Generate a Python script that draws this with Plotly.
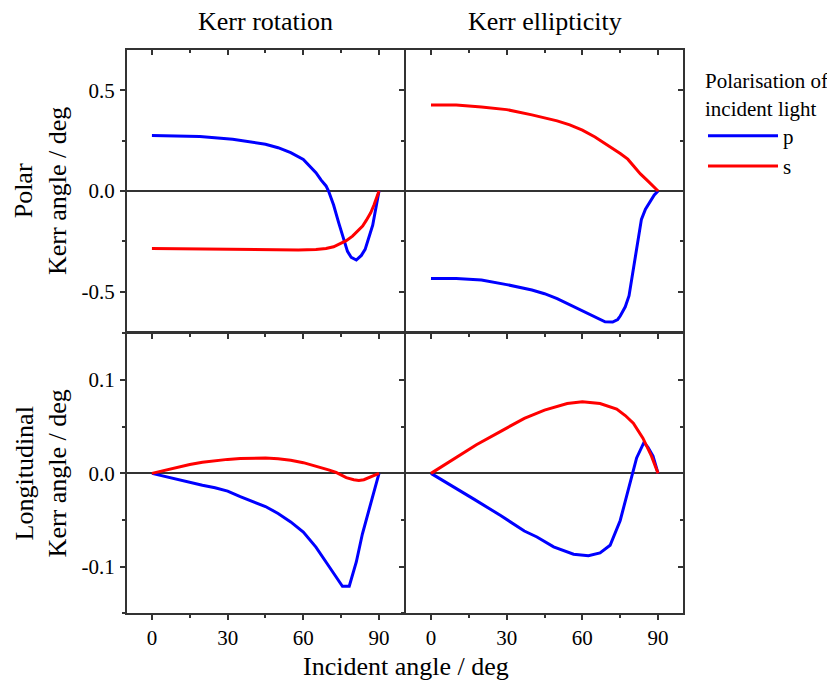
import plotly.graph_objects as go

# ---------------- data ----------------
# Polar Kerr rotation
pol_rot_p_x = [0, 10, 19, 32, 45, 50, 55, 60, 63, 65, 67, 69, 70, 72, 74, 76, 77.5, 79, 81, 83, 84.5, 86, 87.5, 90]
pol_rot_p_y = [0.276, 0.273, 0.270, 0.257, 0.232, 0.215, 0.190, 0.157, 0.120, 0.091, 0.055, 0.025, 0.0,
               -0.07, -0.157, -0.24, -0.30, -0.33, -0.343, -0.32, -0.29, -0.23, -0.17, 0.0]
pol_rot_s_x = [0, 10, 20, 30, 40, 50, 58, 65, 69, 72, 74, 77, 79.5, 82, 83.5, 85, 86.7, 88, 90]
pol_rot_s_y = [-0.286, -0.287, -0.289, -0.291, -0.293, -0.293, -0.293, -0.29, -0.286, -0.277, -0.265,
               -0.247, -0.224, -0.195, -0.174, -0.145, -0.108, -0.07, 0.0]

# Polar Kerr ellipticity
pol_ell_p_x = [0, 10, 20, 30, 40, 45, 50, 55, 60, 65, 69, 72, 74, 75, 77, 78.5, 80, 81.5, 83.4, 85, 86.7, 88.5, 90]
pol_ell_p_y = [-0.434, -0.435, -0.442, -0.465, -0.492, -0.51, -0.535, -0.565, -0.597, -0.628, -0.650,
               -0.651, -0.638, -0.621, -0.575, -0.52, -0.40, -0.27, -0.141, -0.09, -0.058, -0.02, 0.0]
pol_ell_s_x = [0, 10, 20, 30, 40, 50, 55, 60, 65, 70, 75, 78, 81, 83, 85.5, 88, 90]
pol_ell_s_y = [0.427, 0.427, 0.417, 0.404, 0.378, 0.348, 0.328, 0.302, 0.268, 0.228, 0.186, 0.158,
               0.115, 0.085, 0.055, 0.025, 0.0]

# Longitudinal Kerr rotation
lon_rot_p_x = [0, 6, 10, 15, 20, 25, 30, 35, 40, 45, 50, 55, 60, 65, 70, 73, 75.5, 78.2, 79.5, 81, 83.4, 86.7, 90]
lon_rot_p_y = [0.0, -0.0039, -0.0065, -0.0099, -0.0128, -0.0155, -0.019, -0.025, -0.030, -0.0355, -0.043,
               -0.052, -0.063, -0.079, -0.099, -0.111, -0.121, -0.121, -0.11, -0.095, -0.065, -0.033, 0.0]
lon_rot_s_x = [0, 3, 6, 10, 15, 20, 25, 30, 35, 40, 45, 50, 55, 60, 65, 70, 73, 77, 80, 82, 84, 86, 88, 90]
lon_rot_s_y = [0.0, 0.002, 0.0042, 0.0068, 0.0095, 0.012, 0.0138, 0.015, 0.016, 0.0165, 0.0165, 0.0156,
               0.014, 0.0115, 0.0078, 0.0038, 0.001, -0.0046, -0.0068, -0.0075, -0.0068, -0.0046, -0.0025, 0.0]

# Longitudinal Kerr ellipticity
lon_ell_p_x = [0, 8, 17, 27.6, 37, 42, 48.6, 56.5, 62.4, 67, 71, 75, 78.8, 81.5, 84.4, 86, 88, 90]
lon_ell_p_y = [0.0, -0.0134, -0.0276, -0.0452, -0.0618, -0.0682, -0.0788, -0.0866, -0.0883, -0.0852,
               -0.077, -0.0505, -0.0117, 0.0166, 0.0332, 0.028, 0.0184, 0.0]
lon_ell_s_x = [0, 8, 18, 28, 37, 45, 54, 60, 67, 73.6, 77, 80.2, 84, 87.4, 90]
lon_ell_s_y = [0.0, 0.0138, 0.0307, 0.0456, 0.059, 0.0678, 0.0749, 0.0767, 0.0749, 0.0689, 0.062,
               0.0537, 0.0378, 0.0184, 0.0]

# ticks / labels
x_tickvals = [0, 30, 60, 90]
x_ticktext = ["0", "30", "60", "90"]
pol_tickvals = [-0.5, 0.0, 0.5]
pol_ticktext = ["-0.5", "0.0", "0.5"]
lon_tickvals = [-0.1, 0.0, 0.1]
lon_ticktext = ["-0.1", "0.0", "0.1"]
col_titles = ["Kerr rotation", "Kerr ellipticity"]
row_titles = ["Polar<br>Kerr angle / deg", "Longitudinal<br>Kerr angle / deg"]
x_title = "Incident angle / deg"
legend_title = "Polarisation of<br>incident light"
series_names = ["p", "s"]
series_colors = ["#0000FF", "#FF0000"]

# ---------------- figure ----------------
W, H = 835, 683
OFF = 8  # page body margin
FONT = "Liberation Serif, Times New Roman, Tinos, serif"
AX = "#333333"
LW = 1.5
TITLE_SIZE = 26
TICK_SIZE = 21
LEG_SIZE = 21


def fx(px):
    return (px - OFF) / W


def fy(py):
    return 1 - (py - OFF) / H


xdom = [[fx(126.7), fx(405 - LW / 2)], [fx(405 + LW / 2), fx(683.3)]]
ydom = [[fy(332.7 - LW / 2), fy(50)], [fy(613.3), fy(332.7 + LW / 2)]]

panels = [
    (0, 0, pol_rot_p_x, pol_rot_p_y, pol_rot_s_x, pol_rot_s_y),
    (0, 1, pol_ell_p_x, pol_ell_p_y, pol_ell_s_x, pol_ell_s_y),
    (1, 0, lon_rot_p_x, lon_rot_p_y, lon_rot_s_x, lon_rot_s_y),
    (1, 1, lon_ell_p_x, lon_ell_p_y, lon_ell_s_x, lon_ell_s_y),
]

fig = go.Figure()
layout = dict(
    width=W, height=H,
    margin=dict(l=0, r=0, t=0, b=0),
    paper_bgcolor="white", plot_bgcolor="white",
    font=dict(family=FONT, size=LEG_SIZE, color="black"),
    showlegend=True,
    legend=dict(
        x=fx(703), y=fy(61), xanchor="left", yanchor="top",
        bgcolor="rgba(0,0,0,0)", borderwidth=0,
        title=dict(text=legend_title, font=dict(family=FONT, size=LEG_SIZE)),
        font=dict(family=FONT, size=LEG_SIZE),
        itemwidth=70, tracegroupgap=0,
    ),
)

annotations = []
for i, (r, c, px, py, sx, sy) in enumerate(panels):
    n = i + 1
    xa = "x" if n == 1 else f"x{n}"
    ya = "y" if n == 1 else f"y{n}"
    on = n + 4
    if r == 0:
        yrange, tv, tt, minor = [-0.7, 0.7], pol_tickvals, pol_ticktext, 0.25
    else:
        yrange, tv, tt, minor = [-0.15, 0.15], lon_tickvals, lon_ticktext, 0.05

    fig.add_trace(go.Scatter(x=px, y=py, mode="lines", name=series_names[0],
                             line=dict(color=series_colors[0], width=3),
                             xaxis=xa, yaxis=ya, showlegend=(n == 1), legendgroup="p"))
    fig.add_trace(go.Scatter(x=sx, y=sy, mode="lines", name=series_names[1],
                             line=dict(color=series_colors[1], width=3),
                             xaxis=xa, yaxis=ya, showlegend=(n == 1), legendgroup="s"))
    fig.add_trace(go.Scatter(x=[None], y=[None], mode="lines", showlegend=False,
                             hoverinfo="skip", xaxis=f"x{on}", yaxis=f"y{on}"))

    layout[f"xaxis{'' if n == 1 else n}"] = dict(
        domain=xdom[c], anchor=ya, range=[-10, 100],
        tickmode="array", tickvals=x_tickvals, ticktext=x_ticktext,
        showticklabels=(r == 1), ticks="outside", ticklen=5, tickwidth=LW, tickcolor=AX,
        minor=dict(ticks="outside", dtick=15, tick0=0, ticklen=3, tickwidth=LW, tickcolor=AX),
        showline=True, linecolor=AX, linewidth=LW, mirror=True,
        showgrid=False, zeroline=False,
        tickfont=dict(family=FONT, size=TICK_SIZE), ticklabelstandoff=0,
    )
    layout[f"yaxis{'' if n == 1 else n}"] = dict(
        domain=ydom[r], anchor=xa, range=yrange,
        tickmode="array", tickvals=tv, ticktext=tt,
        showticklabels=(c == 0), ticks="outside", ticklen=5, tickwidth=LW, tickcolor=AX,
        minor=dict(ticks="outside", dtick=minor, tick0=0, ticklen=3, tickwidth=LW, tickcolor=AX),
        showline=True, linecolor=AX, linewidth=LW, mirror=True,
        showgrid=False, zeroline=True, zerolinecolor=AX, zerolinewidth=LW,
        tickfont=dict(family=FONT, size=TICK_SIZE), ticklabelstandoff=1,
    )
    layout[f"xaxis{on}"] = dict(
        overlaying=xa, side="top", anchor=f"y{on}", range=[-10, 100],
        tickmode="array", tickvals=x_tickvals, showticklabels=False,
        ticks="inside", ticklen=5, tickwidth=LW, tickcolor=AX,
        minor=dict(ticks="inside", dtick=15, tick0=0, ticklen=3, tickwidth=LW, tickcolor=AX),
        showline=False, showgrid=False, zeroline=False,
    )
    layout[f"yaxis{on}"] = dict(
        overlaying=ya, side="right", anchor=f"x{on}", range=yrange,
        tickmode="array", tickvals=tv, showticklabels=False,
        ticks="inside", ticklen=5, tickwidth=LW, tickcolor=AX,
        minor=dict(ticks="inside", dtick=minor, tick0=0, ticklen=3, tickwidth=LW, tickcolor=AX),
        showline=False, showgrid=False, zeroline=False,
    )

    if r == 0:
        annotations.append(dict(text=col_titles[c], xref=f"{xa} domain", yref="paper",
                                x=0.5, y=fy(22), xanchor="center", yanchor="middle",
                                showarrow=False, font=dict(family=FONT, size=TITLE_SIZE)))
    if c == 0:
        annotations.append(dict(text=row_titles[r], xref="paper", yref=f"{ya} domain",
                                x=fx(41), y=0.5, xanchor="center", yanchor="middle",
                                textangle=-90, showarrow=False,
                                font=dict(family=FONT, size=TITLE_SIZE)))

annotations.append(dict(text=x_title, xref="paper", yref="paper",
                        x=fx(406), y=fy(666), xanchor="center", yanchor="middle",
                        showarrow=False, font=dict(family=FONT, size=TITLE_SIZE)))
layout["annotations"] = annotations

fig.update_layout(**layout)
fig.write_html("out.html")
